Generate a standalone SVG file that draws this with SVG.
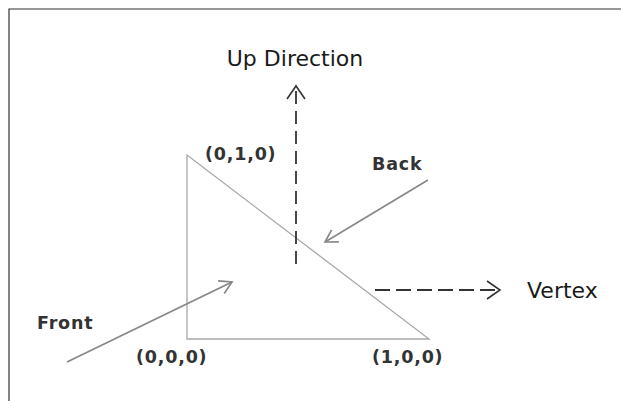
<svg xmlns="http://www.w3.org/2000/svg" width="621" height="401" viewBox="0 0 621 401">
<style>
.big{font-family:"DejaVu Sans",sans-serif;font-size:22px;fill:#1a1a1a}
.lbl{font-family:"DejaVu Sans",sans-serif;font-size:17.5px;font-weight:bold;fill:#333;letter-spacing:0.8px}
.tri{fill:none;stroke:#a8a8a8;stroke-width:1.3}
.dash{stroke:#333;stroke-width:1.8;fill:none}
.solid{stroke:#888;stroke-width:1.7;fill:none}
</style>
<defs>
<marker id="chevD" markerWidth="20" markerHeight="22" refX="15" refY="11" orient="auto" markerUnits="userSpaceOnUse">
<path d="M2,2 L15,11 L2,20" fill="none" stroke="#333" stroke-width="1.6"/>
</marker>
<marker id="chevS" markerWidth="18" markerHeight="18" refX="14" refY="9" orient="auto" markerUnits="userSpaceOnUse">
<path d="M2,2 L14,9 L2,16" fill="none" stroke="#888" stroke-width="1.7"/>
</marker>
</defs>
<rect x="0" y="0" width="621" height="401" fill="#fff"/>
<path d="M9,401 V9 H621" fill="none" stroke="#333" stroke-width="1.2"/>
<g id="triangle">
<path class="tri" d="M187,155 L187,339 L429,339 Z"/>
</g>
<g id="labels">
<text class="big" x="295" y="66" text-anchor="middle">Up Direction</text>
<text class="big" x="527" y="298">Vertex</text>
<text class="lbl" x="205" y="160">(0,1,0)</text>
<text class="lbl" x="372" y="170">Back</text>
<text class="lbl" x="37" y="329">Front</text>
<text class="lbl" x="136" y="363">(0,0,0)</text>
<text class="lbl" x="372" y="363">(1,0,0)</text>
</g>
<g id="connectors">
<line class="dash" x1="296" y1="264" x2="296" y2="86" stroke-dasharray="13,7" marker-end="url(#chevD)"/>
<line class="dash" x1="375" y1="290" x2="500" y2="290" stroke-dasharray="15,6" marker-end="url(#chevD)"/>
<line class="solid" x1="428" y1="180" x2="325" y2="242" marker-end="url(#chevS)"/>
<line class="solid" x1="67" y1="362" x2="232" y2="282" marker-end="url(#chevS)"/>
</g>
</svg>
